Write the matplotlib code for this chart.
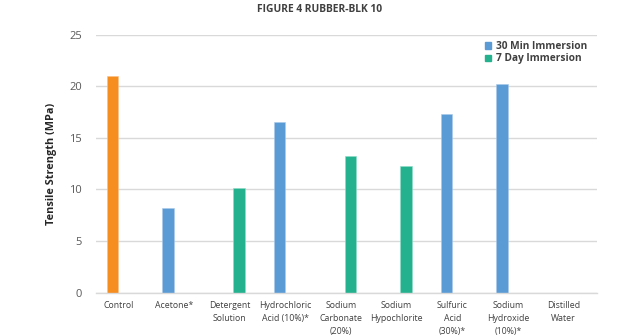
import numpy as np
import matplotlib
matplotlib.use("Agg")
import matplotlib.pyplot as plt
from matplotlib.patches import Patch

plt.rcParams['font.family'] = ['Open Sans', 'DejaVu Sans']

# data
categories = ["Control", "Acetone*", "Detergent\nSolution", "Hydrochloric\nAcid (10%)*",
              "Sodium\nCarbonate\n(20%)", "Sodium\nHypochlorite", "Sulfuric\nAcid\n(30%)*",
              "Sodium\nHydroxide\n(10%)*", "Distilled\nWater"]
control = [21.0, np.nan, np.nan, np.nan, np.nan, np.nan, np.nan, np.nan, np.nan]
thirty_min = [np.nan, 8.2, np.nan, 16.5, np.nan, np.nan, 17.3, 20.2, np.nan]
seven_day = [np.nan, np.nan, 10.1, np.nan, 13.2, 12.3, np.nan, np.nan, np.nan]
yticks = [0, 5, 10, 15, 20, 25]

c_orange = '#F68D1F'
c_blue = '#5B9BD5'
c_green = '#24B18E'
txt = '#404040'

fig = plt.figure(figsize=(6.4, 3.36), dpi=100)
ax = fig.add_axes([0.15, 0.129, 0.783, 0.768])

x = np.arange(len(categories))
w = 0.207
ax.bar(x - 0.205, control, w, color=c_orange, edgecolor='#fbc08a', linewidth=0.4)
ax.bar(x - 0.205, thirty_min, w, color=c_blue, edgecolor='#a9c9ea', linewidth=0.4)
ax.bar(x + 0.07, seven_day, w, color=c_green, edgecolor='#8fdcc8', linewidth=0.4)

ax.set_xlim(-0.5, 8.5)
ax.set_ylim(0, 25)
ax.set_yticks(yticks)
ax.yaxis.grid(True, color='#d9d9d9', linewidth=1.0)
ax.set_axisbelow(True)
for s in ['top', 'right', 'left']:
    ax.spines[s].set_visible(False)
ax.spines['bottom'].set_color('#d9d9d9')
ax.spines['bottom'].set_linewidth(1.0)

ax.set_xticks(x - 0.1)
ax.set_xticklabels(categories, fontsize=6.3, color=txt, linespacing=1.55, va='top')
ax.tick_params(axis='x', length=0, pad=6)
ax.tick_params(axis='y', length=0, pad=10, labelsize=8, labelcolor='#595959')

ax.set_ylabel("Tensile Strength (MPa)", fontsize=7.8, fontweight='bold', color='#262626', labelpad=9)

handles = [Patch(color=c_blue), Patch(color=c_green)]
leg = ax.legend(handles, ["30 Min Immersion", "7 Day Immersion"], loc='upper right',
                bbox_to_anchor=(0.99, 0.995), frameon=False, fontsize=7.3,
                handlelength=0.6, handleheight=0.6, handletextpad=0.5,
                labelspacing=0.15, borderpad=0)
for t in leg.get_texts():
    t.set_fontweight('bold')
    t.set_color(txt)

fig.text(0.5, 1 - 10 / 336, "FIGURE 4 RUBBER-BLK 10", ha='center', va='center',
         fontsize=7.4, fontweight='bold', color=txt)

fig.savefig("out.png", dpi=100)
